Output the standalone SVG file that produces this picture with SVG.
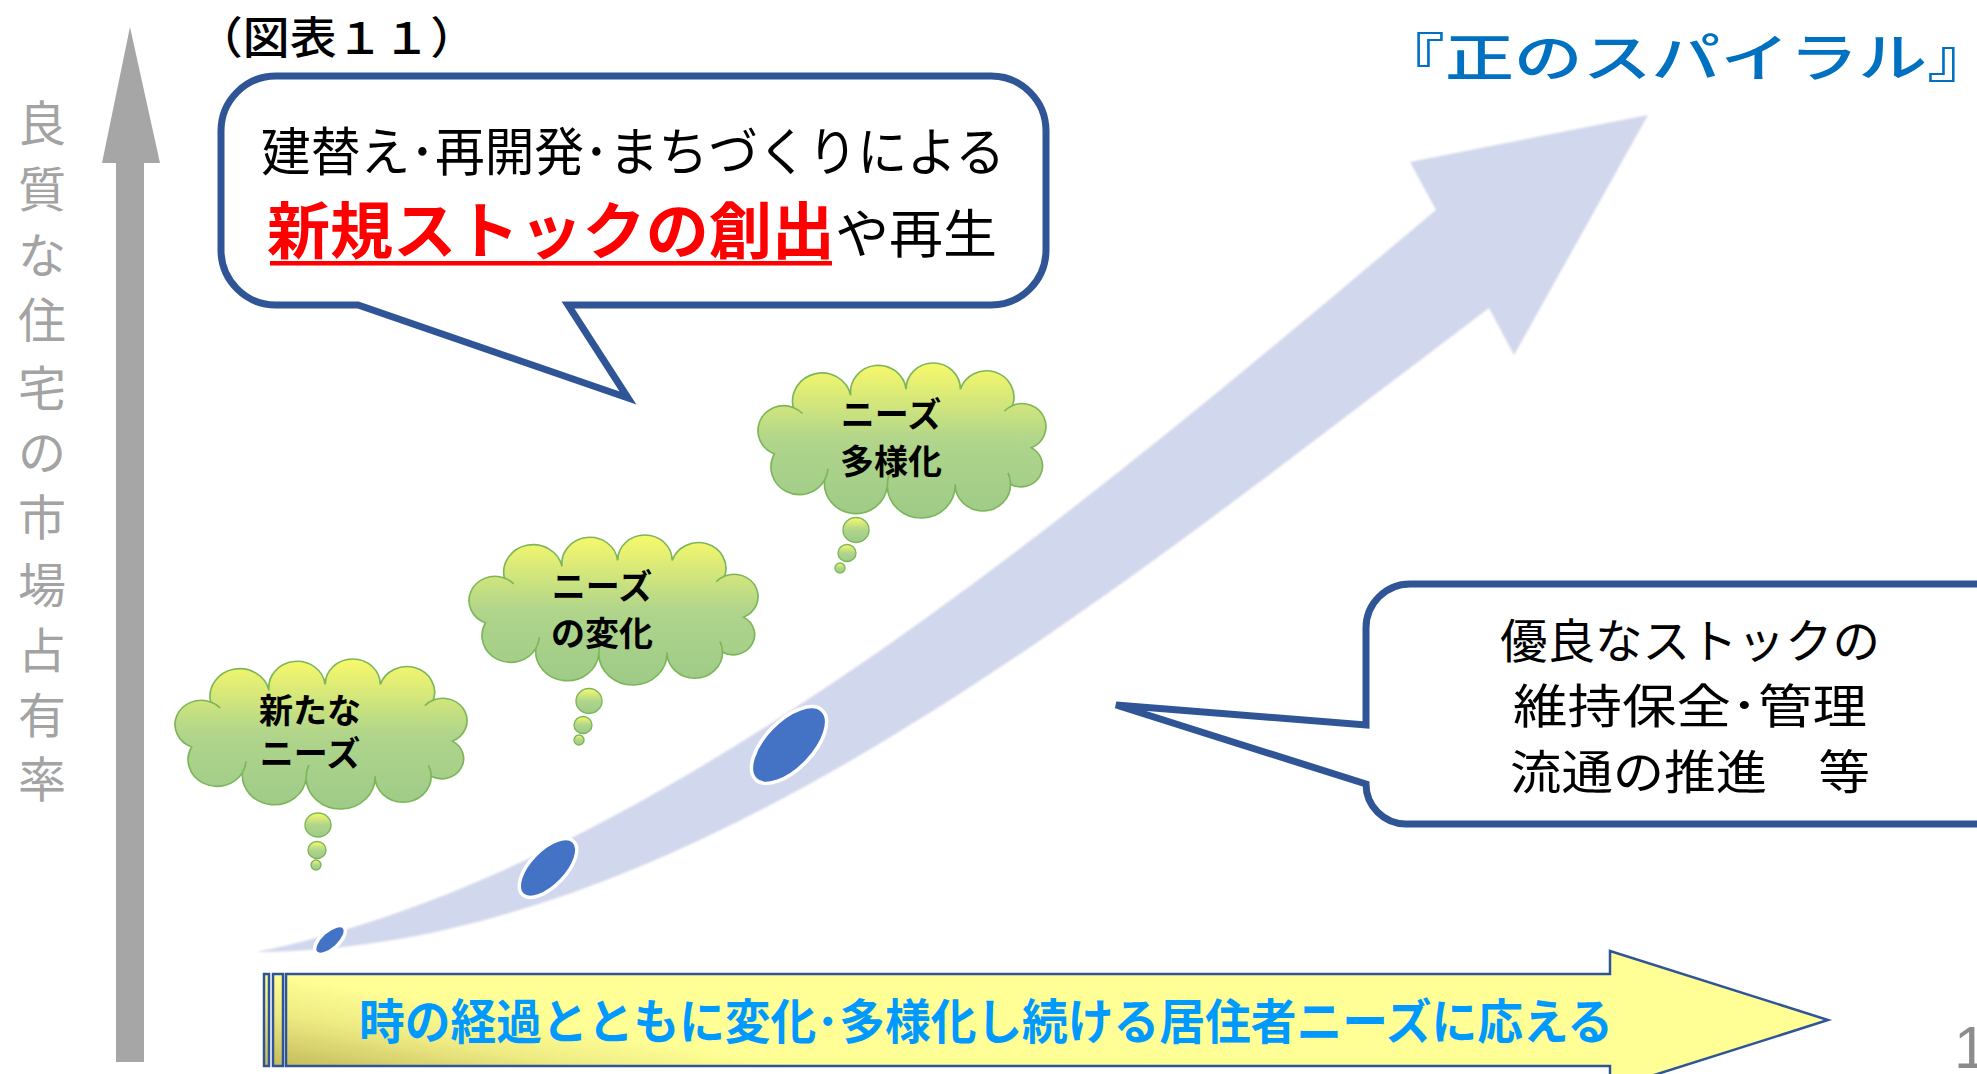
<svg xmlns="http://www.w3.org/2000/svg" width="1977" height="1074" viewBox="0 0 1977 1074">
<defs>
<style>
.jp{font-family:"Noto Sans CJK JP","Noto Sans CJK SC",sans-serif}
.cloud{fill:url(#gCloud);stroke:#7DB65A;stroke-width:1.6}
.inner{fill:none;stroke:#7DB65A;stroke-width:1.6}
.puff{fill:url(#gCloud);stroke:#7DB65A;stroke-width:1.4}
.ctext{font-size:34px;font-weight:bold;fill:#000;text-anchor:middle}
.dot{fill:#4472C4;stroke:#ffffff;stroke-width:3.5}
.vt{font-size:48px;fill:#A3A3A3;text-anchor:middle}
.bubble{fill:#ffffff;stroke:#2F5597;stroke-width:7}
.btext{font-size:47px;fill:#000;text-anchor:middle}
.ybar{fill:url(#gYellow);stroke:#2F5597;stroke-width:2.5}
</style>
<linearGradient id="gCloud" x1="0" y1="0" x2="0" y2="1">
<stop offset="0" stop-color="#F8F96A"/>
<stop offset="0.5" stop-color="#B0D58B"/>
<stop offset="1" stop-color="#9ECB88"/>
</linearGradient>
<linearGradient id="gYellow" gradientUnits="userSpaceOnUse" x1="285" y1="1066" x2="301" y2="977">
<stop offset="0" stop-color="#C6BC5E"/>
<stop offset="0.55" stop-color="#EDEA82"/>
<stop offset="1" stop-color="#FFFF96"/>
</linearGradient>
<filter id="soft" x="-5%" y="-5%" width="110%" height="110%">
<feGaussianBlur stdDeviation="0.9"/>
</filter>
<path id="cloudShape" d="M22,88 A1,1 0 0 1 40,42 A1,1 0 0 1 95,30 A1,1 0 0 1 148,24 A1,1 0 0 1 200,24 A1,1 0 0 1 250,40 A1,1 0 0 1 268,82 A1,1 0 0 1 248,118 A1,1 0 0 1 195,118 A1,1 0 0 1 130,120 A1,1 0 0 1 70,114 A1,1 0 0 1 22,88 Z"/>
<g id="cloudInner">
<path d="M40,42 A24.7,24.7 0 0 1 48.9,48"/>
<path d="M242,45.8 A22.8,22.8 0 0 1 250,40"/>
<path d="M245.5,106.8 A26.5,26.5 0 0 1 248,118"/>
<path d="M130,120 A32.5,32.5 0 0 1 132.6,106.3"/>
<path d="M73.3,102.6 A27.3,27.3 0 0 1 70,114"/>
</g>
</defs>

<rect width="1977" height="1074" fill="#ffffff"/>

<g id="axis-vertical">
<path d="M130,27 L160,163 H144 V1062 H116 V163 H102 Z" fill="#A6A6A6"/>
<text class="jp vt"><tspan x="42" y="141">良</tspan><tspan x="42" y="207">質</tspan><tspan x="42" y="273">な</tspan><tspan x="42" y="338">住</tspan><tspan x="42" y="406">宅</tspan><tspan x="42" y="470">の</tspan><tspan x="42" y="535">市</tspan><tspan x="42" y="603">場</tspan><tspan x="42" y="668">占</tspan><tspan x="42" y="733">有</tspan><tspan x="42" y="797">率</tspan></text>
</g>

<g id="figure-label">
<text class="jp" x="196" y="54" font-size="44" font-weight="500" fill="#000" textLength="281" lengthAdjust="spacingAndGlyphs">（図表１１）</text>
</g>

<g id="title">
<text class="jp" x="1376" y="77" font-size="52" font-weight="500" fill="#0070C0" textLength="620" lengthAdjust="spacingAndGlyphs">『正のスパイラル』</text>
</g>

<g id="connectors">
<g id="spiral-arrow">
<path d="M256,952 C656,872 1086,504 1436,210 L1410,162 L1648,115 L1514,355 L1489,308 C1089,610 680,950 256,952 Z" fill="#D1D7EC" filter="url(#soft)"/>
<ellipse class="dot" cx="0" cy="0" rx="19" ry="9" transform="translate(330 940) rotate(-42)"/>
<ellipse class="dot" cx="0" cy="0" rx="37" ry="18" transform="translate(548 868) rotate(-46)"/>
<ellipse class="dot" cx="0" cy="0" rx="48" ry="24" transform="translate(789 745) rotate(-46)"/>
</g>
</g>

<g id="cloud-new-needs">
<use href="#cloudShape" class="cloud" transform="translate(168.3 661) scale(1.06 0.977)"/>
<use href="#cloudInner" class="inner" transform="translate(168.3 661) scale(1.06 0.977)"/>
<ellipse class="puff" cx="318" cy="825" rx="13" ry="12"/>
<ellipse class="puff" cx="317" cy="850" rx="9" ry="8.5"/>
<ellipse class="puff" cx="316" cy="865" rx="5" ry="5"/>
<text class="jp ctext"><tspan x="310" y="723">新たな</tspan><tspan x="310" y="766">ニーズ</tspan></text>
</g>

<g id="cloud-needs-change">
<use href="#cloudShape" class="cloud" transform="translate(462.4 537) scale(1.049 0.977)"/>
<use href="#cloudInner" class="inner" transform="translate(462.4 537) scale(1.049 0.977)"/>
<ellipse class="puff" cx="589" cy="701" rx="13" ry="12.5"/>
<ellipse class="puff" cx="583" cy="725" rx="9" ry="8.5"/>
<ellipse class="puff" cx="579" cy="740" rx="5" ry="5"/>
<text class="jp ctext"><tspan x="602" y="599">ニーズ</tspan><tspan x="602" y="646">の変化</tspan></text>
</g>

<g id="cloud-needs-diversify">
<use href="#cloudShape" class="cloud" transform="translate(751.4 365) scale(1.045 1.01)"/>
<use href="#cloudInner" class="inner" transform="translate(751.4 365) scale(1.045 1.01)"/>
<ellipse class="puff" cx="856" cy="530" rx="13" ry="12.5"/>
<ellipse class="puff" cx="847" cy="553" rx="9" ry="8.5"/>
<ellipse class="puff" cx="840" cy="568" rx="5" ry="5"/>
<text class="jp ctext"><tspan x="891" y="427">ニーズ</tspan><tspan x="891" y="474">多様化</tspan></text>
</g>

<g id="bubble-new-stock">
<path class="bubble" d="M276,76 H991 A55,55 0 0 1 1046,131 V250 A55,55 0 0 1 991,305 H568 L628,398 L358,305 H276 A55,55 0 0 1 221,250 V131 A55,55 0 0 1 276,76 Z"/>
<text class="jp" x="633" y="171" font-size="52" fill="#000" text-anchor="middle" textLength="744" lengthAdjust="spacingAndGlyphs">建替え･再開発･まちづくりによる</text>
<text class="jp" x="267" y="254" font-size="62" font-weight="bold" fill="#FF0000" textLength="568" lengthAdjust="spacingAndGlyphs">新規ストックの創出</text>
<rect x="270" y="261" width="562" height="4.5" fill="#FF0000"/>
<text class="jp" x="835" y="253" font-size="52" fill="#000" textLength="162" lengthAdjust="spacingAndGlyphs">や再生</text>
</g>

<g id="bubble-good-stock">
<path class="bubble" d="M1410,584 H2040 V824 H1406 A40,40 0 0 1 1366,784 L1116,705 L1366,725 V628 A44,44 0 0 1 1410,584 Z"/>
<text class="jp btext"><tspan x="1690" y="658" textLength="380" lengthAdjust="spacingAndGlyphs">優良なストックの</tspan><tspan x="1690" y="723" textLength="354" lengthAdjust="spacingAndGlyphs">維持保全･管理</tspan><tspan x="1690" y="789" textLength="360" lengthAdjust="spacingAndGlyphs">流通の推進　等</tspan></text>
</g>

<g id="time-arrow">
<rect class="ybar" x="264" y="974" width="5" height="92"/>
<rect class="ybar" x="273" y="974" width="10" height="92"/>
<path class="ybar" d="M286,974 H1610 V951 L1828,1020 L1610,1089 V1066 H286 Z"/>
<text class="jp" x="359" y="1039" font-size="48" font-weight="bold" fill="#0099FF" textLength="1254" lengthAdjust="spacingAndGlyphs">時の経過とともに変化･多様化し続ける居住者ニーズに応える</text>
</g>

<g id="page-number">
<text x="1954" y="1068" font-family="Liberation Sans, Arial, sans-serif" font-size="60" fill="#8C8C8C">1</text>
</g>
</svg>
